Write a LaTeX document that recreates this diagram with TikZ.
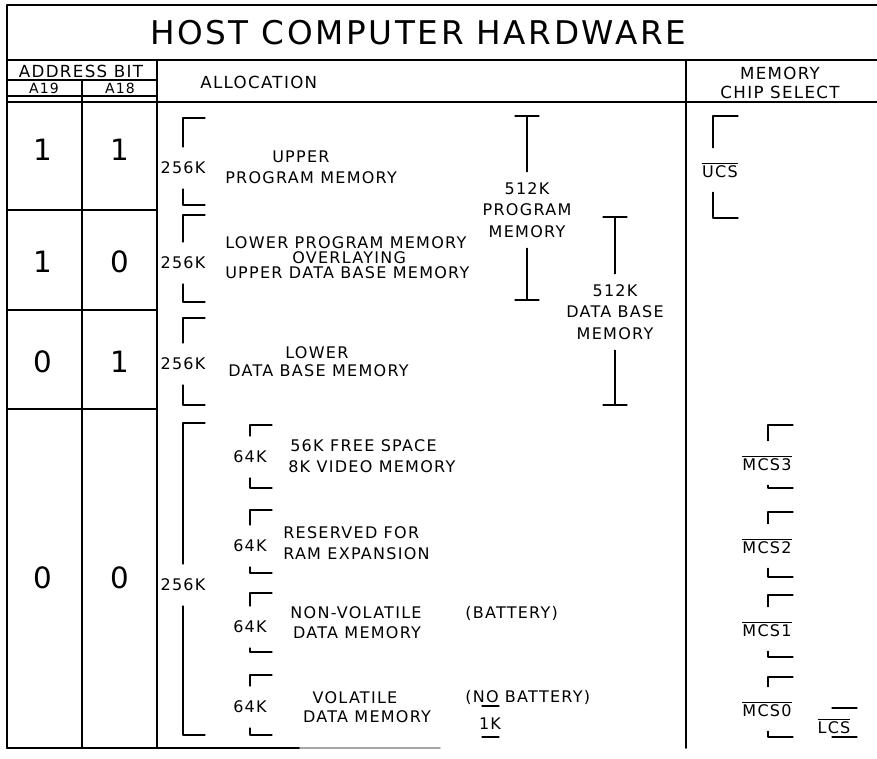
\documentclass[tikz,border=0pt]{standalone}
\usepackage{fontspec}
\newfontfamily\plotter[LetterSpace=8]{DejaVu Sans}
\newcommand{\actlow}[1]{$\overline{\mbox{#1}}$}

\begin{document}
\begin{tikzpicture}[
  x=0.75pt,
  y=-0.75pt,
  line cap=round,
  line join=round,
  rule/.style={line width=1.3pt},
  bracket/.style={line width=0.9pt},
  txt/.style={font=\plotter\fontsize{12}{16}\selectfont,inner sep=0pt},
  headtxt/.style={font=\plotter\fontsize{12.5}{16}\selectfont,inner sep=0pt},
  smalltxt/.style={font=\plotter\fontsize{10.5}{12}\selectfont,inner sep=0pt},
  digit/.style={font=\plotter\fontsize{22}{26}\selectfont,inner sep=0pt},
  titletxt/.style={font=\plotter\fontsize{24.5}{28}\selectfont,inner sep=0pt},
  sizelabel/.style={txt,inner xsep=1pt,inner ysep=11pt},
  stack/.style={txt,align=center,inner xsep=1pt,inner ysep=8pt}
]
  \useasboundingbox (0,0) rectangle (877,759);

  % Frame and table rules
  \draw[rule] (7,748) -- (7,5) -- (877,5);
  \draw[rule] (7,748) -- (300,748);
  \draw[rule,black!35] (300,748) -- (440,748);
  \draw[rule] (7,60) -- (877,60);
  \draw[rule] (7,102) -- (877,102);
  \draw[rule] (7,80) -- (157,80);
  \draw[rule] (7,96) -- (157,96);
  \draw[rule] (82,80) -- (82,748);
  \draw[rule] (157,60) -- (157,748);
  \draw[rule] (686,60) -- (686,748);
  \foreach \ry in {210,310,409} {
    \draw[rule] (7,\ry) -- (157,\ry);
  }

  % Headings
  \node[titletxt] (title) at (418,33) {HOST COMPUTER HARDWARE};
  \node[headtxt] (addrbit) at (81,71) {ADDRESS BIT};
  \node[smalltxt] (aninetn) at (44,88) {A19};
  \node[smalltxt] (aeightn) at (120,88) {A18};
  \node[headtxt,anchor=west] (alloc) at (200,82) {ALLOCATION};
  \node[headtxt] (chipa) at (780,73) {MEMORY};
  \node[headtxt] (chipb) at (780,92) {CHIP SELECT};

  % Address bit values of the four rows
  \foreach \ry/\bita/\bitb [count=\i] in {150/1/1, 262/1/0, 362/0/1, 578/0/0} {
    \node[digit] (ahigh\i) at (43,\ry) {\bita};
    \node[digit] (alow\i) at (120,\ry) {\bitb};
  }

  % Allocation texts
  \node[txt,anchor=west] (upa) at (272,157) {UPPER};
  \node[txt,anchor=west] (upb) at (225,178) {PROGRAM MEMORY};
  \node[txt,anchor=west] (ova) at (225,243) {LOWER PROGRAM MEMORY};
  \node[txt,anchor=west] (ovb) at (292,258) {OVERLAYING};
  \node[txt,anchor=west] (ovc) at (225,273) {UPPER DATA BASE MEMORY};
  \node[txt,anchor=west] (loa) at (285,353) {LOWER};
  \node[txt,anchor=west] (lob) at (228,371) {DATA BASE MEMORY};
  \node[txt,anchor=west] (vida) at (290,446) {56K FREE SPACE};
  \node[txt,anchor=west] (vidb) at (288,467) {8K VIDEO MEMORY};
  \node[txt,anchor=west] (resa) at (283,533) {RESERVED FOR};
  \node[txt,anchor=west] (resb) at (283,554) {RAM EXPANSION};
  \node[txt] (nva) at (356,613) {NON-VOLATILE};
  \node[txt] (nvb) at (357,633) {DATA MEMORY};
  \node[txt,anchor=west] (batt) at (465,613) {(BATTERY)};
  \node[txt] (vola) at (355,698) {VOLATILE};
  \node[txt] (volb) at (367,717) {DATA MEMORY};
  \node[txt,anchor=west] (nobatt) at (465,697) {(NO BATTERY)};
  \node[txt] (onek) at (490,724) {1K};
  \draw[bracket] (482,706) -- (499,706);
  \draw[bracket] (482,737) -- (499,737);

  % Size brackets with their labels
  \foreach \bx/\btop/\blab/\bbot/\bsize [count=\i] in
      {183/118/168/205/256K, 183/215/263/302/256K, 183/318/364/405/256K,
       183/423/585/735/256K, 250/425/457/488/64K, 250/510/546/573/64K,
       250/593/627/652/64K, 250/675/707/735/64K} {
    \node[sizelabel] (size\i) at (\bx,\blab) {\bsize};
    \draw[bracket] (\bx+22,\btop) -| (size\i.north);
    \draw[bracket] (size\i.south) |- (\bx+22,\bbot);
  }

  % 512K program memory and 512K data base memory
  \coordinate (pgmtop) at (527,116);
  \coordinate (pgmbot) at (527,300);
  \node[stack] (pgmmem) at (527,210) {512K\\PROGRAM\\MEMORY};
  \draw[bracket] (pgmtop) -- (pgmmem.north);
  \draw[bracket] (pgmmem.south) -- (pgmbot);
  \draw[bracket] (pgmtop) ++(-12,0) -- ++(24,0);
  \draw[bracket] (pgmbot) ++(-12,0) -- ++(24,0);

  \coordinate (dbtop) at (615,217);
  \coordinate (dbbot) at (615,405);
  \node[stack] (dbmem) at (615,312) {512K\\DATA BASE\\MEMORY};
  \draw[bracket] (dbtop) -- (dbmem.north);
  \draw[bracket] (dbmem.south) -- (dbbot);
  \draw[bracket] (dbtop) ++(-12,0) -- ++(24,0);
  \draw[bracket] (dbbot) ++(-12,0) -- ++(24,0);

  % Chip select brackets; the signal name sits on the bracket line
  \foreach \bx/\lx/\btop/\blab/\bbot/\bsig [count=\i] in
      {713/720/116/170/218/UCS, 768/767/425/463/488/MCS3,
       768/767/512/546/577/MCS2, 768/767/595/629/657/MCS1,
       768/767/677/709/737/MCS0} {
    \coordinate (csline\i) at (\bx,\blab);
    \node[sizelabel] (cs\i) at (\lx,\blab) {\actlow{\bsig}};
    \draw[bracket] (\bx+25,\btop) -| (cs\i.north -| csline\i);
    \draw[bracket] (cs\i.south -| csline\i) |- (\bx+25,\bbot);
  }
  \node[txt] (lcs) at (834,726) {\actlow{LCS}};
  \draw[bracket] (832,708) -- (857,708);
  \draw[bracket] (832,737) -- (857,737);

\end{tikzpicture}
\end{document}
